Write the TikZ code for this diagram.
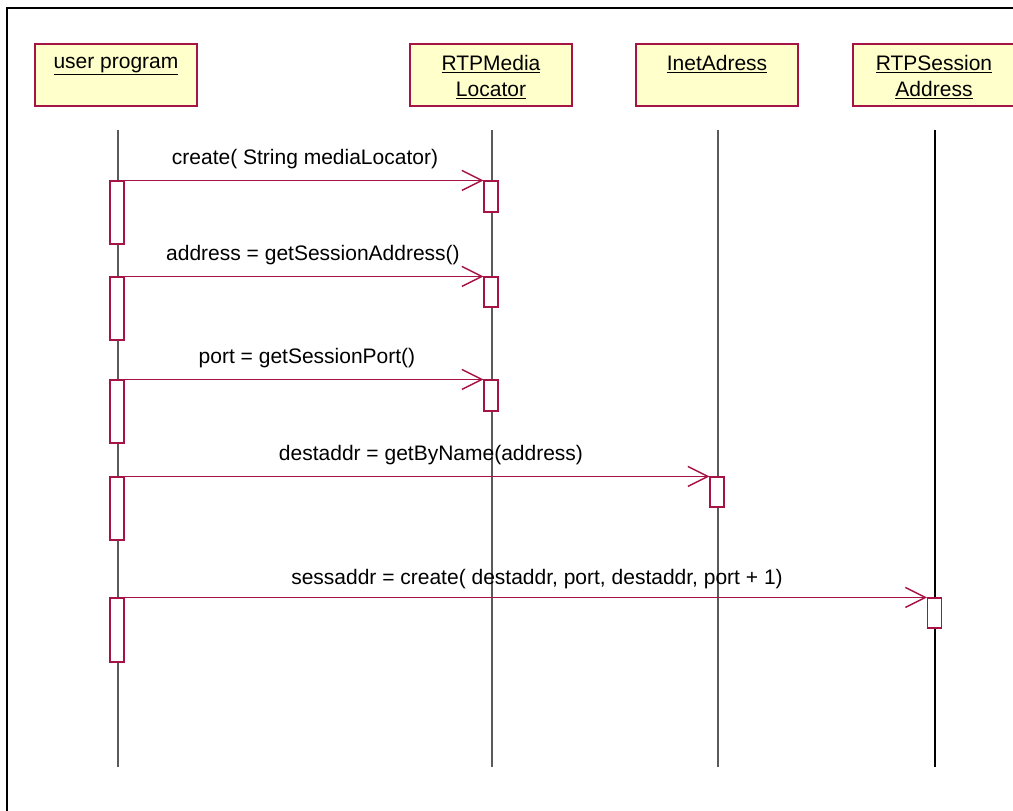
\documentclass[tikz,border=0pt]{standalone}
\usepackage{fontspec}
\setmainfont{Liberation Sans}
\usetikzlibrary{arrows.meta}
\definecolor{umlred}{RGB}{166,20,70}
\definecolor{objfill}{RGB}{255,255,204}
\definecolor{lifegray}{RGB}{90,90,90}
\begin{document}
\begin{tikzpicture}[x=1pt,y=-1pt,
  every node/.style={font=\fontsize{21}{25}\selectfont},
  objbox/.style={draw=umlred,line width=1.2pt,fill=objfill,minimum width=162pt,minimum height=62pt,inner sep=0pt},
  objname/.style={anchor=north,align=center,inner sep=0pt},
  lifeline/.style={draw=lifegray,line width=1.1pt},
  actbox/.style={draw=umlred,line width=1.1pt,fill=white,minimum width=14pt,inner sep=0pt},
  msg/.style={draw=umlred,line width=1.1pt,-{Straight Barb[length=20pt,width=20pt,line width=1.4pt]}},
  msglabel/.style={inner sep=0pt}]
\useasboundingbox (0,0) rectangle (1013,811);
% outer frame (top and left edges)
\draw[line width=2pt] (7,811) -- (7,8) -- (1013,8);

% objects
\node[objbox] (up) at (116,75) {};
\node[objname] (upn) at ([yshift=-14pt]up.north) {\underline{user program}};
\node[objbox] (ml) at (491,75) {};
\node[objname] (mln) at ([yshift=-12pt]ml.north) {\underline{RTPMedia}\\[1pt]\underline{Locator}};
\node[objbox] (ia) at (717,75) {};
\node[objname] (ian) at ([yshift=-12pt]ia.north) {\underline{InetAdress}};
\node[objbox] (sa) at (934,75) {};
\node[objname] (san) at ([yshift=-12pt]sa.north) {\underline{RTPSession}\\[1pt]\underline{Address}};

% lifelines
\coordinate (upt) at (118,130); \coordinate (upb) at (118,767);
\coordinate (mlt) at (492,130); \coordinate (mlb) at (492,767);
\coordinate (iat) at (718,130); \coordinate (iab) at (718,767);
\coordinate (sat) at (935,130); \coordinate (sab) at (935,767);
\draw[lifeline] (upt) -- (upb);
\draw[lifeline] (mlt) -- (mlb);
\draw[lifeline] (iat) -- (iab);
\draw[lifeline,draw=black] (sat) -- (sab);

% activations of the caller
\node[actbox,minimum height=63pt] (u1) at (117,212.5) {};
\node[actbox,minimum height=63pt] (u2) at (117,308.5) {};
\node[actbox,minimum height=63pt] (u3) at (117,411.5) {};
\node[actbox,minimum height=63pt] (u4) at (117,508.5) {};
\node[actbox,minimum height=64pt] (u5) at (117,630) {};

% activations of the callees
\node[actbox,minimum height=31pt] (m1) at (491,196.5) {};
\node[actbox,minimum height=30pt] (m2) at (491,292) {};
\node[actbox,minimum height=31pt] (m3) at (491,395.5) {};
\node[actbox,minimum height=30pt] (i1) at (717,492) {};
\node[actbox,minimum height=30pt] (s1) at (934.5,613) {};

% messages
\draw[msg] (u1.north east) -- (m1.north west);
\draw[msg] (u2.north east) -- (m2.north west);
\draw[msg] (u3.north east) -- (m3.north west);
\draw[msg] (u4.north east) -- (i1.north west);
\draw[msg] (u5.north east) -- (s1.north west);

\node[msglabel] (l1) at (305,159) {create( String mediaLocator)};
\node[msglabel] (l2) at (313,255) {address = getSessionAddress()};
\node[msglabel] (l3) at (307,358) {port = getSessionPort()};
\node[msglabel] (l4) at (431,455) {destaddr = getByName(address)};
\node[msglabel] (l5) at (537,579) {sessaddr = create( destaddr, port, destaddr, port + 1)};
\end{tikzpicture}
\end{document}
